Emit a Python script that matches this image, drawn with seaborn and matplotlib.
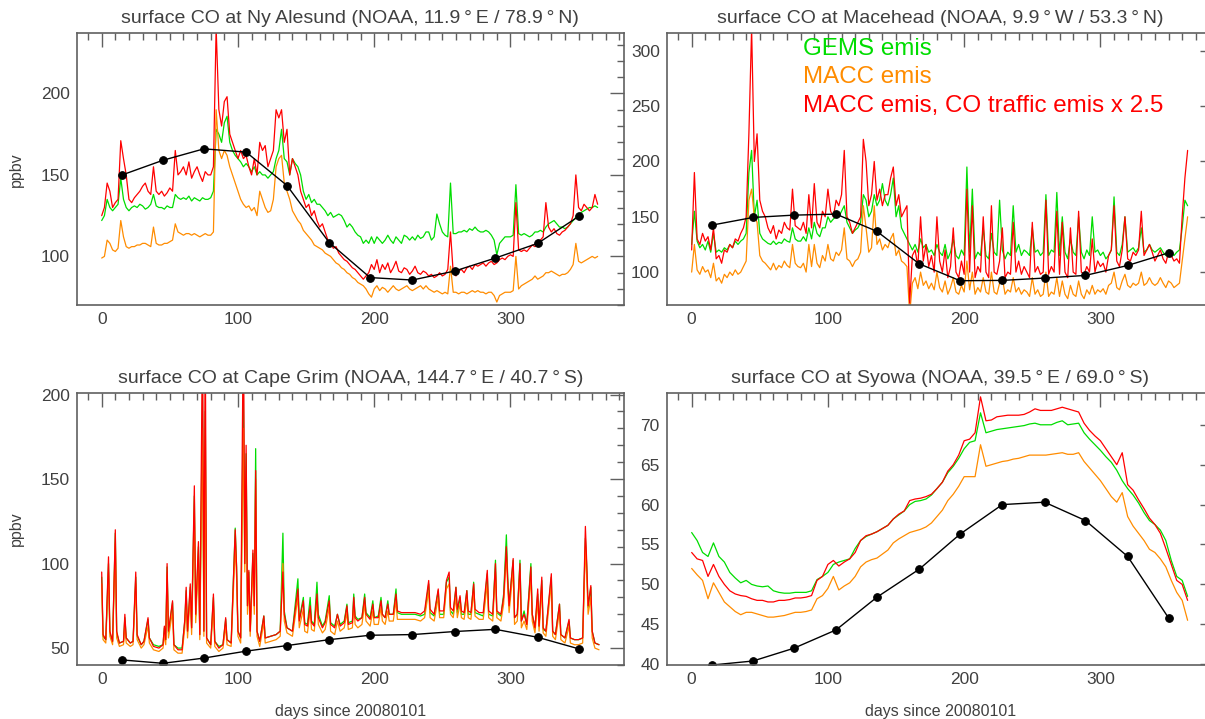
import numpy as np
import pandas as pd
import matplotlib
matplotlib.use('Agg')
import matplotlib.pyplot as plt
from matplotlib.ticker import MultipleLocator
import seaborn as sns

runs = ['GEMS emis', 'MACC emis', 'MACC emis, CO traffic emis x 2.5']
run_colors = {'GEMS emis': '#00dd00', 'MACC emis': '#ff8c00',
              'MACC emis, CO traffic emis x 2.5': '#ff0000'}

# model output, days since 20080101 (2-day and 4-day samples)
days2 = np.arange(0, 366, 2)
days4 = np.arange(0, 366, 4)

# monthly NOAA flask observations
obs_days = [15, 45, 75, 106, 136, 167, 197, 228, 259, 289, 320, 350]

# Ny Alesund (2-day)
nyal_gems = [122, 125, 135, 130, 128, 130, 132, 148, 135, 130,
             128, 130, 131, 130, 132, 131, 129, 130, 132, 138,
             131, 130, 130, 129, 131, 130, 130, 138, 136, 135,
             136, 135, 137, 134, 136, 135, 134, 136, 135, 135,
             136, 140, 178, 175, 170, 182, 186, 170, 165, 162,
             160, 158, 155, 157, 155, 152, 155, 150, 152, 150,
             150, 148, 150, 152, 160, 165, 178, 160, 158, 150,
             160, 157, 155, 150, 140, 135, 138, 133, 135, 132,
             132, 130, 128, 125, 127, 124, 125, 126, 125, 122,
             118, 120, 118, 115, 113, 112, 108, 110, 108, 112,
             108, 112, 110, 108, 110, 113, 110, 108, 112, 110,
             108, 113, 112, 110, 112, 110, 113, 111, 112, 115,
             115, 110, 112, 126, 120, 115, 113, 112, 145, 114,
             114, 115, 115, 116, 115, 117, 116, 118, 116, 115,
             115, 116, 115, 113, 110, 101, 108, 110, 112, 112,
             112, 113, 144, 114, 113, 114, 113, 112, 113, 115,
             115, 116, 115, 118, 120, 121, 122, 120, 118, 118,
             117, 118, 120, 122, 124, 125, 127, 128, 129, 130,
             130, 131, 130]
nyal_macc = [99, 100, 110, 108, 104, 103, 105, 122, 112, 106,
             105, 106, 106, 107, 107, 108, 108, 107, 106, 118,
             108, 107, 107, 108, 108, 109, 110, 120, 115, 114,
             113, 114, 114, 113, 114, 113, 112, 113, 114, 113,
             113, 115, 190, 165, 160, 165, 162, 155, 150, 145,
             140, 135, 132, 130, 131, 128, 130, 125, 140, 135,
             130, 127, 128, 135, 155, 160, 162, 145, 140, 135,
             128, 125, 122, 120, 116, 114, 112, 110, 107, 106,
             105, 104, 102, 101, 100, 98, 96, 95, 93, 92,
             90, 89, 87, 86, 84, 83, 82, 80, 77, 75,
             80, 82, 79, 81, 80, 78, 80, 82, 80, 79,
             80, 81, 82, 80, 79, 80, 81, 82, 80, 82,
             80, 79, 78, 79, 78, 77, 78, 77, 94, 78,
             78, 77, 78, 78, 77, 78, 79, 78, 79, 78,
             78, 77, 78, 78, 76, 72, 76, 77, 78, 78,
             78, 79, 100, 80, 82, 83, 84, 85, 86, 88,
             86, 87, 88, 90, 90, 91, 90, 89, 88, 89,
             89, 90, 92, 95, 108, 97, 96, 97, 98, 99,
             100, 99, 100]
nyal_traffic = [125, 130, 145, 140, 130, 133, 135, 171, 160, 150,
                135, 133, 136, 138, 140, 143, 145, 140, 138, 155,
                140, 138, 140, 137, 139, 142, 140, 165, 150, 152,
                155, 150, 158, 148, 152, 155, 150, 146, 152, 150,
                150, 155, 240, 190, 180, 195, 198, 175, 170, 165,
                160, 165, 160, 162, 155, 150, 160, 150, 170, 165,
                168, 155, 160, 165, 190, 185, 190, 170, 178, 150,
                160, 155, 150, 140, 135, 130, 132, 125, 128, 122,
                118, 120, 115, 110, 108, 105, 106, 102, 100, 98,
                97, 95, 93, 92, 90, 88, 86, 88, 90, 95,
                92, 98, 90, 95, 92, 96, 90, 93, 97, 91,
                90, 93, 92, 89, 91, 94, 90, 89, 91, 90,
                88, 89, 87, 88, 90, 88, 89, 92, 115, 90,
                88, 91, 92, 90, 93, 94, 92, 95, 94, 95,
                96, 94, 96, 97, 95, 96, 98, 99, 98, 100,
                101, 100, 133, 104, 103, 104, 103, 105, 107, 106,
                108, 110, 112, 133, 118, 115, 117, 114, 113, 115,
                116, 118, 120, 125, 150, 130, 128, 132, 130, 128,
                130, 138, 132]
nyal_obs = [150, 159, 166, 164, 143.5, 108.5, 87, 85.5, 91, 99, 108, 124.5]

# Mace Head (2-day)
mace_gems = [125, 155, 128, 122, 125, 120, 128, 118, 135, 118,
             120, 118, 122, 120, 125, 122, 128, 125, 128, 130,
             135, 190, 210, 150, 165, 135, 130, 128, 126, 125,
             128, 125, 127, 126, 130, 128, 127, 140, 130, 128,
             128, 132, 128, 140, 130, 145, 135, 132, 140, 140,
             150, 145, 148, 150, 150, 155, 160, 145, 140, 135,
             138, 140, 145, 170, 165, 150, 155, 170, 160, 165,
             180, 165, 160, 170, 185, 150, 160, 140, 135, 130,
             125, 120, 125, 118, 130, 122, 125, 118, 120, 115,
             125, 118, 115, 125, 112, 118, 130, 115, 112, 120,
             115, 195, 118, 175, 112, 118, 115, 140, 115, 112,
             135, 118, 115, 165, 120, 112, 118, 115, 160, 118,
             125, 115, 120, 118, 115, 140, 118, 120, 115, 118,
             170, 115, 120, 118, 172, 115, 150, 118, 112, 130,
             118, 115, 150, 118, 112, 120, 115, 150, 118, 120,
             115, 118, 112, 115, 120, 168, 118, 115, 125, 150,
             118, 120, 122, 118, 122, 140, 118, 120, 125, 120,
             118, 120, 122, 118, 115, 120, 118, 115, 118, 120,
             140, 165, 160]
mace_macc = [100, 125, 102, 98, 105, 100, 102, 95, 108, 92,
             95, 90, 98, 95, 100, 97, 102, 98, 100, 105,
             110, 165, 175, 150, 145, 115, 110, 108, 105, 102,
             108, 102, 106, 104, 110, 106, 104, 125, 108, 105,
             104, 108, 100, 125, 105, 125, 108, 104, 115, 110,
             125, 112, 110, 118, 115, 120, 140, 112, 110, 105,
             110, 112, 118, 160, 140, 118, 122, 160, 125, 130,
             120, 125, 122, 130, 135, 115, 120, 110, 108, 105,
             62, 90, 95, 85, 100, 88, 92, 85, 90, 84,
             100, 86, 82, 92, 80, 86, 95, 82, 80, 88,
             82, 110, 84, 100, 80, 86, 82, 95, 82, 80,
             100, 82, 80, 90, 95, 80, 84, 82, 95, 82,
             86, 80, 84, 82, 78, 95, 80, 84, 78, 80,
             100, 78, 82, 80, 95, 78, 92, 80, 76, 88,
             80, 78, 92, 80, 76, 84, 80, 88, 80, 84,
             82, 85, 80, 88, 90, 100, 86, 84, 92, 98,
             88, 86, 90, 88, 90, 100, 88, 90, 95, 90,
             88, 90, 95, 90, 86, 92, 90, 86, 88, 90,
             110, 130, 150]
mace_traffic = [120, 190, 130, 125, 135, 128, 132, 120, 140, 112,
                115, 108, 120, 118, 125, 122, 130, 128, 135, 140,
                150, 225, 320, 200, 225, 165, 155, 150, 140, 135,
                142, 130, 138, 135, 145, 140, 138, 175, 142, 140,
                138, 145, 135, 170, 140, 180, 145, 140, 155, 150,
                175, 155, 150, 165, 160, 170, 210, 150, 145, 135,
                140, 145, 150, 220, 200, 160, 170, 200, 165, 175,
                160, 170, 170, 185, 195, 160, 170, 150, 155, 160,
                72, 115, 120, 105, 150, 110, 125, 105, 115, 100,
                150, 110, 100, 120, 95, 105, 140, 100, 95, 110,
                98, 175, 100, 160, 95, 105, 100, 150, 100, 95,
                160, 100, 98, 110, 140, 95, 100, 98, 145, 100,
                110, 98, 105, 100, 95, 145, 100, 105, 98, 100,
                165, 98, 105, 100, 155, 98, 145, 100, 95, 140,
                100, 98, 155, 100, 98, 105, 100, 130, 100, 110,
                105, 108, 100, 115, 120, 160, 110, 105, 120, 150,
                112, 110, 118, 115, 120, 155, 115, 120, 125, 118,
                110, 115, 120, 112, 108, 118, 115, 110, 112, 108,
                150, 185, 210]
mace_obs = [142.5, 149.4, 151.5, 152.4, 136.8, 107.5, 92.2, 92.5, 94.6, 97, 106, 117.4]

# Cape Grim (irregular sampling so the short pollution spikes stay narrow)
cgo_days = [0, 1, 3, 5, 6, 8, 10, 11, 13, 16,
            17, 18, 21, 23, 25, 26, 29, 31, 34, 35,
            38, 42, 45, 46, 47, 48, 49, 52, 53, 56,
            59, 61, 62, 63, 65, 66, 68, 69, 71, 72,
            74, 75, 76, 77, 80, 82, 83, 86, 89, 91,
            92, 95, 98, 99, 100, 102, 104, 105, 106, 107,
            108, 109, 111, 112, 113, 114, 116, 119, 120, 124,
            128, 131, 133, 134, 136, 140, 144, 145, 148, 149,
            151, 153, 154, 156, 158, 159, 162, 164, 167, 168,
            171, 173, 175, 178, 180, 181, 184, 185, 186, 188,
            191, 193, 194, 197, 199, 200, 203, 205, 206, 208,
            210, 211, 214, 216, 217, 220, 225, 230, 234, 237,
            240, 241, 244, 247, 248, 251, 253, 255, 256, 258,
            260, 261, 263, 264, 266, 268, 269, 271, 273, 274,
            277, 280, 283, 284, 287, 289, 290, 293, 295, 297,
            298, 299, 302, 303, 305, 307, 308, 310, 312, 315,
            316, 318, 320, 321, 323, 324, 326, 330, 331, 333,
            336, 337, 340, 343, 344, 347, 350, 353, 355, 356,
            357, 359, 360, 362, 365]
cgo_traffic = [95, 58, 55, 104, 60, 54, 120, 60, 53, 54,
               70, 56, 53, 54, 95, 58, 52, 54, 68, 56,
               51, 50, 52, 63, 55, 100, 60, 78, 52, 49,
               49, 67, 86, 60, 88, 62, 146, 70, 113, 58,
               240, 60, 240, 56, 52, 82, 54, 50, 52, 68,
               55, 53, 120, 98, 60, 56, 250, 100, 170, 75,
               96, 60, 108, 75, 155, 60, 54, 69, 56, 57,
               58, 60, 95, 70, 62, 60, 85, 66, 78, 64,
               63, 75, 65, 63, 82, 68, 62, 65, 78, 64,
               62, 70, 63, 65, 75, 64, 65, 80, 68, 66,
               68, 80, 70, 67, 76, 68, 68, 78, 70, 68,
               76, 70, 70, 82, 72, 71, 71, 71, 70, 72,
               90, 73, 70, 85, 72, 72, 90, 95, 74, 72,
               86, 73, 81, 72, 71, 84, 72, 71, 88, 73,
               71, 71, 96, 72, 70, 100, 72, 70, 80, 110,
               90, 75, 103, 68, 70, 100, 66, 70, 64, 98,
               70, 62, 85, 63, 92, 62, 60, 94, 60, 58,
               76, 58, 56, 67, 56, 55, 55, 56, 122, 100,
               75, 87, 60, 53, 52]
cgo_gems = [92, 57, 55, 100, 59, 54, 118, 59, 53, 54,
            68, 56, 53, 54, 92, 57, 52, 54, 67, 56,
            52, 51, 52, 62, 55, 98, 59, 77, 52, 50,
            50, 66, 84, 60, 86, 62, 140, 69, 110, 58,
            200, 60, 190, 56, 52, 80, 54, 51, 52, 67,
            55, 53, 121, 98, 60, 56, 200, 100, 165, 75,
            95, 60, 106, 75, 168, 60, 54, 69, 56, 57,
            58, 60, 118, 72, 62, 60, 91, 67, 80, 65,
            64, 80, 66, 64, 89, 70, 63, 66, 81, 65,
            63, 70, 64, 66, 76, 65, 66, 82, 69, 67,
            68, 82, 71, 68, 78, 68, 69, 80, 70, 68,
            78, 70, 70, 85, 71, 70, 70, 70, 69, 70,
            88, 71, 69, 84, 70, 70, 89, 92, 72, 70,
            86, 71, 80, 70, 70, 84, 70, 70, 89, 71,
            70, 69, 94, 70, 69, 102, 71, 69, 82, 117,
            92, 76, 102, 68, 70, 102, 66, 72, 64, 100,
            70, 62, 82, 63, 90, 61, 60, 92, 60, 58,
            76, 58, 56, 66, 56, 55, 55, 56, 115, 98,
            74, 86, 60, 53, 52]
cgo_macc = [88, 55, 53, 95, 57, 52, 112, 56, 51, 52,
            64, 53, 51, 52, 88, 55, 50, 52, 63, 53,
            49, 48, 50, 58, 52, 94, 56, 72, 49, 47,
            47, 62, 80, 56, 82, 58, 130, 65, 104, 55,
            180, 57, 170, 53, 50, 75, 51, 48, 50, 63,
            52, 51, 110, 92, 57, 53, 180, 95, 150, 70,
            90, 57, 100, 70, 150, 57, 51, 65, 53, 54,
            55, 57, 100, 66, 59, 57, 80, 62, 73, 60,
            59, 72, 61, 60, 78, 64, 59, 61, 74, 60,
            58, 66, 60, 62, 71, 61, 62, 76, 64, 62,
            64, 76, 66, 63, 72, 64, 64, 74, 66, 64,
            72, 66, 66, 78, 67, 67, 67, 67, 66, 68,
            84, 68, 66, 80, 68, 68, 85, 88, 70, 68,
            80, 68, 76, 68, 67, 79, 68, 67, 84, 69,
            67, 67, 88, 68, 66, 95, 68, 66, 76, 105,
            86, 71, 96, 64, 66, 95, 62, 66, 61, 92,
            66, 59, 78, 60, 86, 59, 57, 88, 57, 55,
            72, 55, 53, 63, 53, 52, 52, 53, 110, 92,
            70, 80, 56, 50, 49]
cgo_obs = [43, 41, 44.1, 48.2, 51.5, 55, 57.6, 58, 59.8, 61.1, 56.4, 49.6]

# Syowa (4-day)
syo_gems = [56.5, 55.5, 54, 53.5, 55.2, 53.5, 52.8, 51.5, 50.8, 50.2,
            50.5, 50, 49.8, 49.7, 49.8, 49.2, 49, 48.9, 48.9, 49,
            49, 49, 49.2, 50.6, 51, 51.5, 52.5, 52.8, 53, 53.2,
            54.5, 55.5, 56, 56.3, 56.6, 57, 57.4, 58.2, 58.7, 59.2,
            60, 60.4, 60.5, 60.7, 61.2, 62, 62.8, 64, 64.8, 65.8,
            67, 67.8, 68, 71.5, 69, 69.2, 69.4, 69.5, 69.6, 69.7,
            69.8, 69.9, 70.1, 70.2, 70, 70, 70, 70.3, 70.5, 70,
            70.1, 70.2, 69, 68.2, 67.5, 66.8, 66, 65.3, 64.3, 63,
            62, 61.2, 60.2, 59, 58, 57.5, 56.8, 55.5, 53, 51,
            50.5, 48.5]
syo_macc = [52, 51.2, 50.5, 48.2, 50.2, 49, 47.8, 47.2, 46.6, 46.2,
            46.5, 46.5, 46.3, 46.1, 45.9, 45.9, 46, 46.1, 46.3, 46.5,
            46.5, 46.6, 46.8, 48.2, 48.6, 49.5, 51, 49.3, 49.8, 50.2,
            51, 52.2, 52.8, 53.1, 53.3, 53.8, 54.3, 55.2, 55.7, 56.1,
            56.5, 56.7, 56.9, 57.2, 57.7, 58.5, 59.3, 60.5, 61.3, 62.3,
            63.5, 63.5, 63.5, 67.5, 64.8, 65, 65.2, 65.4, 65.5, 65.7,
            65.8, 66, 66.2, 66.2, 66.2, 66.2, 66.3, 66.4, 66.5, 66.3,
            66.3, 66.5, 65.4, 64.6, 63.8, 63, 62, 61, 60.3, 61.5,
            58.5, 57.3, 56.4, 55.5, 54.4, 54, 53.2, 52.2, 50.5, 49,
            48, 45.5]
syo_traffic = [54, 53.2, 53, 51, 52.5, 51, 50, 49.2, 48.8, 48.6,
               48.5, 48.2, 48, 48, 47.8, 47.8, 48, 48, 48.1, 48.3,
               48.3, 48.4, 48.6, 50.5, 51, 52.5, 53, 52.3, 52.8, 53.2,
               54, 55.5, 56.1, 56.3, 56.6, 57, 57.4, 58.2, 58.8, 59.2,
               60.5, 60.7, 60.8, 61, 61.3, 62, 62.8, 64.2, 65, 66.2,
               68, 68.2, 69, 73.5, 70.5, 70.6, 71, 71.1, 71.2, 71.2,
               71.2, 71.3, 71.6, 72, 71.8, 71.8, 71.8, 72, 72.2, 72,
               71.8, 71.6, 70.2, 69.3, 68.6, 68, 67, 66, 65, 66.5,
               62.5, 61.8, 60.6, 59.5, 58.3, 57.5, 56.4, 54.5, 52.5, 50.5,
               50, 48]
syo_obs = [39.9, 40.4, 42.0, 44.3, 48.4, 51.9, 56.3, 60.0, 60.3, 58.0, 53.5, 45.8]

TEXT = '#404040'
FRAME = '#606060'
DEG = '\u2009°\u2009'


def build_frame(x, gems, macc, traffic):
    return pd.DataFrame({
        'day': np.tile(x, 3),
        'co': np.concatenate([gems, macc, traffic]),
        'run': np.repeat(runs, len(x)),
    })


def draw_panel(ax, title, x, gems, macc, traffic, obs, ylim, ymajor, ymin_step,
               ylabel=True, xlabel=False):
    df = build_frame(x, gems, macc, traffic)
    sns.lineplot(data=df, x='day', y='co', hue='run', hue_order=runs,
                 palette=run_colors, estimator=None, errorbar=None,
                 legend=False, linewidth=0.9, ax=ax)
    sns.lineplot(x=obs_days, y=obs, color='black', marker='o', markersize=5.5,
                 markeredgecolor='black', linewidth=1.0, estimator=None,
                 errorbar=None, ax=ax)

    ax.set_xlim(-18.3, 383.3)
    ax.set_ylim(*ylim)
    ax.xaxis.set_major_locator(MultipleLocator(100))
    ax.xaxis.set_minor_locator(MultipleLocator(10))
    ax.yaxis.set_major_locator(MultipleLocator(ymajor))
    ax.yaxis.set_minor_locator(MultipleLocator(ymin_step))
    ax.set_xticks([0, 100, 200, 300])
    ax.tick_params(which='both', direction='in', top=True, right=True,
                   color=FRAME, width=1.0, labelcolor=TEXT, labelsize=12.5)
    ax.tick_params(which='major', length=10, pad=5)
    ax.tick_params(which='minor', length=5)
    for sp in ax.spines.values():
        sp.set_color(FRAME)
        sp.set_linewidth(1.2)

    ax.set_title(title, fontsize=14, color=TEXT, pad=7)
    ax.set_xlabel('days since 20080101' if xlabel else '', fontsize=11.5, color=TEXT)
    ax.xaxis.set_label_coords(0.5, -0.143)
    ax.set_ylabel('ppbv' if ylabel else '', fontsize=11.5, color=TEXT)
    ax.yaxis.set_label_coords(-0.096, 0.5)


def main():
    sns.set_theme(style='white')
    plt.rcParams['font.family'] = ['Liberation Sans', 'DejaVu Sans']

    fig = plt.figure(figsize=(12.05, 7.19), dpi=100)
    w, h = 0.4541, 0.3785
    ax1 = fig.add_axes([0.0637, 0.5754, w, h])
    ax2 = fig.add_axes([0.5533, 0.5754, w, h])
    ax3 = fig.add_axes([0.0637, 0.0751, w, h])
    ax4 = fig.add_axes([0.5533, 0.0751, w, h])

    draw_panel(ax1, f'surface CO at Ny Alesund (NOAA, 11.9{DEG}E / 78.9{DEG}N)', days2,
               nyal_gems, nyal_macc, nyal_traffic, nyal_obs, (70, 237), 50, 10)
    draw_panel(ax2, f'surface CO at Macehead (NOAA, 9.9{DEG}W / 53.3{DEG}N)', days2,
               mace_gems, mace_macc, mace_traffic, mace_obs, (70, 316), 50, 10,
               ylabel=False)
    draw_panel(ax3, f'surface CO at Cape Grim (NOAA, 144.7{DEG}E / 40.7{DEG}S)', cgo_days,
               cgo_gems, cgo_macc, cgo_traffic, cgo_obs, (40, 201), 50, 10,
               xlabel=True)
    draw_panel(ax4, f'surface CO at Syowa (NOAA, 39.5{DEG}E / 69.0{DEG}S)', days4,
               syo_gems, syo_macc, syo_traffic, syo_obs, (39.9, 74), 5, 1,
               ylabel=False, xlabel=True)

    # legend written as coloured text, as in the original
    for ypos, run in zip([0.941, 0.838, 0.734], runs):
        ax2.text(0.249, ypos, run, transform=ax2.transAxes, color=run_colors[run],
                 fontsize=17.4, va='center', ha='left')

    fig.savefig('out.png', dpi=100)
    plt.close(fig)


if __name__ == "__main__":
    main()
